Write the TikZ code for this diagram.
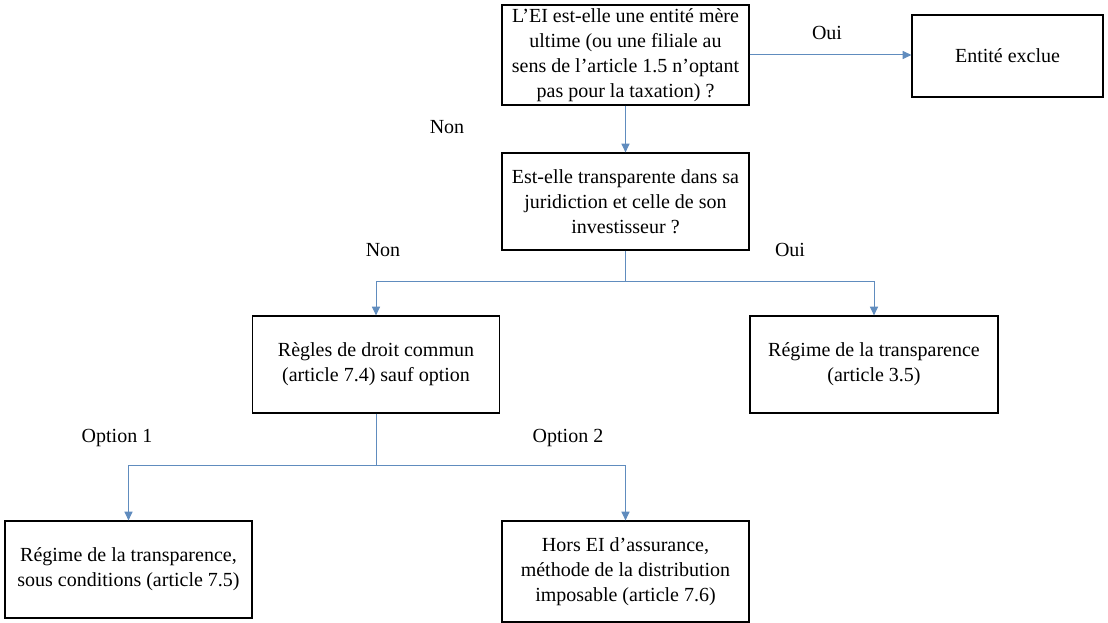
\documentclass[tikz,border=0pt]{standalone}
\usepackage{fontspec}
\setmainfont{Liberation Serif}
\usetikzlibrary{arrows.meta}
\definecolor{linkblue}{RGB}{96,140,190}
\begin{document}
\begin{tikzpicture}[x=0.75pt,y=-0.75pt,
  box/.style={draw=black,line width=0.9pt,rectangle,align=center,inner sep=2pt,
    font=\fontsize{15}{18.6}\selectfont},
  conn/.style={draw=linkblue,line width=0.75pt,-{Triangle[length=6.5pt,width=6pt]}},
  plain/.style={draw=linkblue,line width=0.75pt},
  lbl/.style={font=\fontsize{15}{18.6}\selectfont}]
\useasboundingbox (0,0) rectangle (1108,623);
% decision and outcome boxes
\node[box,minimum width=247*0.75pt,minimum height=100*0.75pt] (q1) at (625.5,55)
  {L’EI est-elle une entité mère\\ultime (ou une filiale au\\sens de l’article 1.5 n’optant\\pas pour la taxation) ?};
\node[box,minimum width=191*0.75pt,minimum height=82*0.75pt] (excl) at (1007.5,56) {Entité exclue};
\node[box,minimum width=247*0.75pt,minimum height=97*0.75pt] (q2) at (625.5,201.5)
  {Est-elle transparente dans sa\\juridiction et celle de son\\investisseur ?};
\node[box,minimum width=247*0.75pt,minimum height=97*0.75pt] (dc) at (376,364.5)
  {Règles de droit commun\\(article 7.4) sauf option};
\node[box,minimum width=248*0.75pt,minimum height=97*0.75pt] (rt) at (874,364.5)
  {Régime de la transparence\\(article 3.5)};
\node[box,minimum width=247*0.75pt,minimum height=97*0.75pt] (o1) at (128.5,569.5)
  {Régime de la transparence,\\sous conditions (article 7.5)};
\node[box,minimum width=247*0.75pt,minimum height=101*0.75pt] (o2) at (625.5,571.5)
  {Hors EI d’assurance,\\méthode de la distribution\\imposable (article 7.6)};
% branch points
\coordinate (j1) at (625.5,282);
\coordinate (j2) at (376,466);
% connectors
\draw[conn] (q1.east) -- (q1.east -| excl.west);
\draw[conn] (q1.south) -- (q2.north);
\draw[plain] (q2.south) -- (j1);
\draw[conn] (j1) -| (dc.north);
\draw[conn] (j1) -| (rt.north);
\draw[plain] (dc.south) -- (j2);
\draw[conn] (j2) -| (o1.north);
\draw[conn] (j2) -| (o2.north);
% branch labels
\node[lbl] (l1) at (827,33) {Oui};
\node[lbl] (l2) at (447,127) {Non};
\node[lbl] (l3) at (383,250) {Non};
\node[lbl] (l4) at (790,250) {Oui};
\node[lbl] (l5) at (117,438) {Option 1};
\node[lbl] (l6) at (568,438) {Option 2};
\end{tikzpicture}
\end{document}
